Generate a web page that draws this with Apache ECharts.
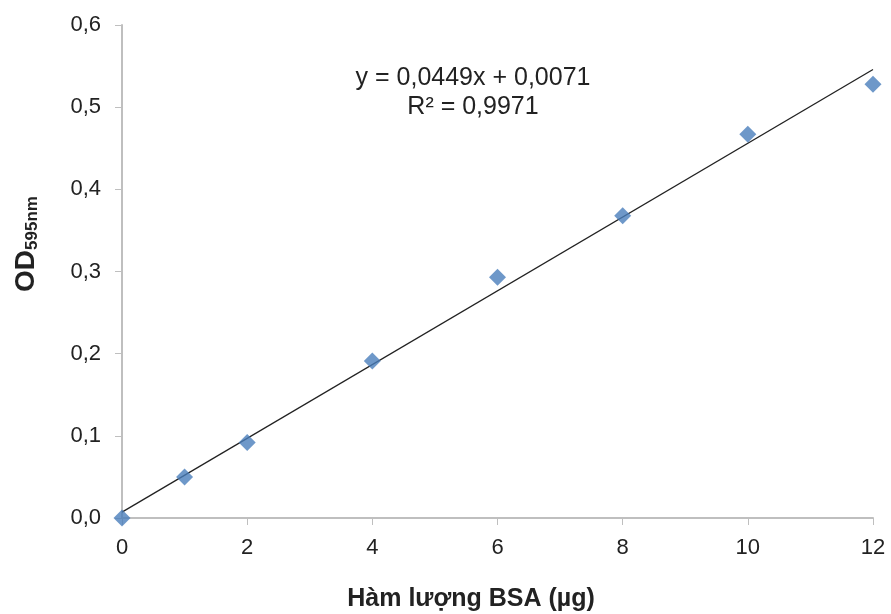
<!DOCTYPE html>
<html><head><meta charset="utf-8">
<script src="https://cdn.jsdelivr.net/npm/echarts@6/dist/echarts.min.js"></script>
<style>html,body{margin:0;padding:0;background:#fff}#c{width:891px;height:614px}</style>
</head><body><div id="c"></div>
<script>
const xValues = [0, 1, 2, 4, 6, 8, 10, 12];
const odValues = [0.0, 0.050, 0.092, 0.191, 0.293, 0.368, 0.467, 0.528];
const trendSlope = 0.0449;
const trendIntercept = 0.0071;
const trendRange = [0, 12];
const equationLines = ['y = 0,0449x + 0,0071', 'R² = 0,9971'];
const xTitle = 'Hàm lượng BSA (µg)';

const font = '"Liberation Sans", Arial, sans-serif';
const chart = echarts.init(document.getElementById('c'));
const trend = trendRange.map(x => [x, trendSlope * x + trendIntercept]);
chart.setOption({
  animation: false,
  grid: {left: 122, right: 18, top: 25, bottom: 96},
  xAxis: {
    type: 'value', min: 0, max: 12, interval: 2,
    axisLine: {show: true, lineStyle: {color: '#bfbfbf', width: 2}},
    axisTick: {show: true, length: 7, lineStyle: {color: '#bfbfbf', width: 1}},
    splitLine: {show: false},
    axisLabel: {color: '#222', fontSize: 22, fontFamily: font, margin: 19}
  },
  yAxis: {
    type: 'value', min: 0, max: 0.6, interval: 0.1,
    axisLine: {show: true, lineStyle: {color: '#bfbfbf', width: 2}},
    axisTick: {show: true, length: 7, lineStyle: {color: '#bfbfbf', width: 1}},
    splitLine: {show: false},
    axisLabel: {color: '#222', fontSize: 22, fontFamily: font, margin: 21,
      formatter: v => v.toFixed(1).replace('.', ',')}
  },
  graphic: [
    {type: 'text', x: 471, y: 599, style: {text: xTitle, fill: '#222', font: 'bold 25px ' + font, textAlign: 'center', textVerticalAlign: 'middle'}},
    {type: 'text', x: 26, y: 244, rotation: Math.PI / 2,
      style: {text: '{a|OD}{b|595nm}', textAlign: 'center', textVerticalAlign: 'middle',
        rich: {a: {font: 'bold 28px ' + font, fill: '#222'}, b: {font: 'bold 17px ' + font, fill: '#222', padding: [12, 0, 0, 0]}}}},
    {type: 'text', x: 473, y: 78, style: {text: equationLines[0], fill: '#222', font: '25px ' + font, textAlign: 'center', textVerticalAlign: 'middle'}},
    {type: 'text', x: 473, y: 107, style: {text: equationLines[1], fill: '#222', font: '25px ' + font, textAlign: 'center', textVerticalAlign: 'middle'}}
  ],
  series: [
    {type: 'line', data: trend, showSymbol: false, symbol: 'none',
      lineStyle: {color: '#222', width: 1.3}, z: 1},
    {type: 'scatter', data: xValues.map((x, i) => [x, odValues[i]]),
      symbol: 'diamond', symbolSize: [17, 17],
      itemStyle: {color: '#4a7ebb'}, z: 2}
  ]
});
</script></body></html>
